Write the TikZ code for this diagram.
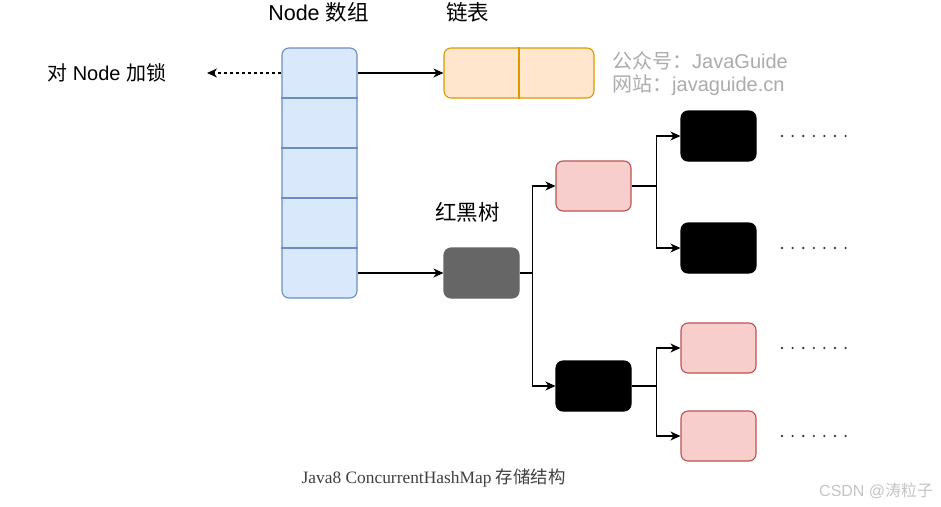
\documentclass[tikz,border=0pt]{standalone}
\usepackage{fontspec}
\setmainfont{Liberation Sans}
\newfontfamily\cjk{Noto Sans CJK SC}
\newfontfamily\capserif{Liberation Serif}
\usetikzlibrary{arrows.meta}

\definecolor{arrFill}{HTML}{DAE8FC}
\definecolor{arrLine}{HTML}{6C8EBF}
\definecolor{lstFill}{HTML}{FFE6CC}
\definecolor{lstLine}{HTML}{D79B00}
\definecolor{redFill}{HTML}{F8CECC}
\definecolor{redLine}{HTML}{B85450}
\definecolor{grayBox}{HTML}{666666}
\definecolor{wmark}{HTML}{ABABAB}
\definecolor{capText}{HTML}{404040}
\definecolor{csdn}{HTML}{C4C4C4}

\tikzset{
  label/.style={font=\fontsize{20}{22}\selectfont, inner sep=0pt},
  heading/.style={font=\fontsize{21.5}{24}\selectfont, inner sep=0pt},
  box/.style={rectangle, rounded corners=7pt, minimum width=75pt, minimum height=50pt, line width=1.1pt, inner sep=0pt},
  redbox/.style={box, fill=redFill, draw=redLine},
  blackbox/.style={box, fill=black, draw=black},
  conn/.style={line width=1.1pt, -{Stealth[length=10pt,width=9pt,inset=3pt]}},
  dashconn/.style={conn, dash pattern=on 3pt off 3pt},
  dot/.style={circle, fill=black!75, inner sep=0pt, minimum size=2.6pt},
}

\begin{document}
\begin{tikzpicture}[x=1pt, y=-1pt]
\useasboundingbox (0,0) rectangle (941,506);

% Node array: five stacked slots
\node[box, minimum height=250pt, fill=arrFill, draw=arrLine] (arr) at (319.5,173) {};
\foreach \yy in {98,148,198,248}
  \draw[arrLine, line width=1.1pt] (arr.west |- 0,\yy) -- (arr.east |- 0,\yy);
\coordinate (slotA) at (319.5,73);
\coordinate (slotE) at (319.5,273);

% linked list with two cells
\node[box, minimum width=150pt, fill=lstFill, draw=lstLine] (lst) at (519,73) {};
\draw[lstLine, line width=1.1pt] (lst.north) -- (lst.south);

% headings
\node[heading] (tArr) at (318.5,12) {Node {\cjk 数组}};
\node[heading] (tLst) at (467.5,12) {\cjk 链表};
\node[label, anchor=west] (tLock) at (47,73) {{\cjk 对} Node {\cjk 加锁}};
\node[heading] (tTree) at (467.5,212) {\cjk 红黑树};

% watermark
\node[label, anchor=west, text=wmark] (wm1) at (612,61) {{\cjk 公众号：}JavaGuide};
\node[label, anchor=west, text=wmark] (wm2) at (612,85) {{\cjk 网站：}javaguide.cn};

% lock arrow and list arrow
\coordinate (lockEnd) at (207,73);
\draw[dashconn] (arr.west |- slotA) -- (lockEnd);
\draw[conn] (arr.east |- slotA) -- (lst.west);

% red-black tree
\node[box, fill=grayBox, draw=grayBox] (root) at (481.5,273) {};
\draw[conn] (arr.east |- slotE) -- (root.west);

\node[redbox] (r1) at (593.5,186) {};
\node[blackbox] (b1) at (593.5,386) {};
\draw[conn] (root.east) -- ++(13,0) |- (r1.west);
\draw[conn] (root.east) -- ++(13,0) |- (b1.west);

\node[blackbox] (b2) at (718.5,136) {};
\node[blackbox] (b3) at (718.5,248) {};
\draw[conn] (r1.east) -- ++(25,0) |- (b2.west);
\draw[conn] (r1.east) -- ++(25,0) |- (b3.west);

\node[redbox] (r2) at (718.5,348) {};
\node[redbox] (r3) at (718.5,436) {};
\draw[conn] (b1.east) -- ++(25,0) |- (r2.west);
\draw[conn] (b1.east) -- ++(25,0) |- (r3.west);

% continuation dots
\foreach \yy in {136,248,348,436}
  \foreach \k in {0,...,6}
    \node[dot] at (782+10.6*\k,\yy) {};

% caption and credit
\node[text=capText, font=\fontsize{17.4}{20}\selectfont, inner sep=0pt] (cap) at (433.5,478) {\capserif Java8 ConcurrentHashMap {\cjk 存储结构}};
\node[text=csdn, font=\fontsize{16}{18}\selectfont, inner sep=0pt, anchor=west] (cred) at (819,491) {CSDN @{\cjk 涛粒子}};
\end{tikzpicture}
\end{document}
